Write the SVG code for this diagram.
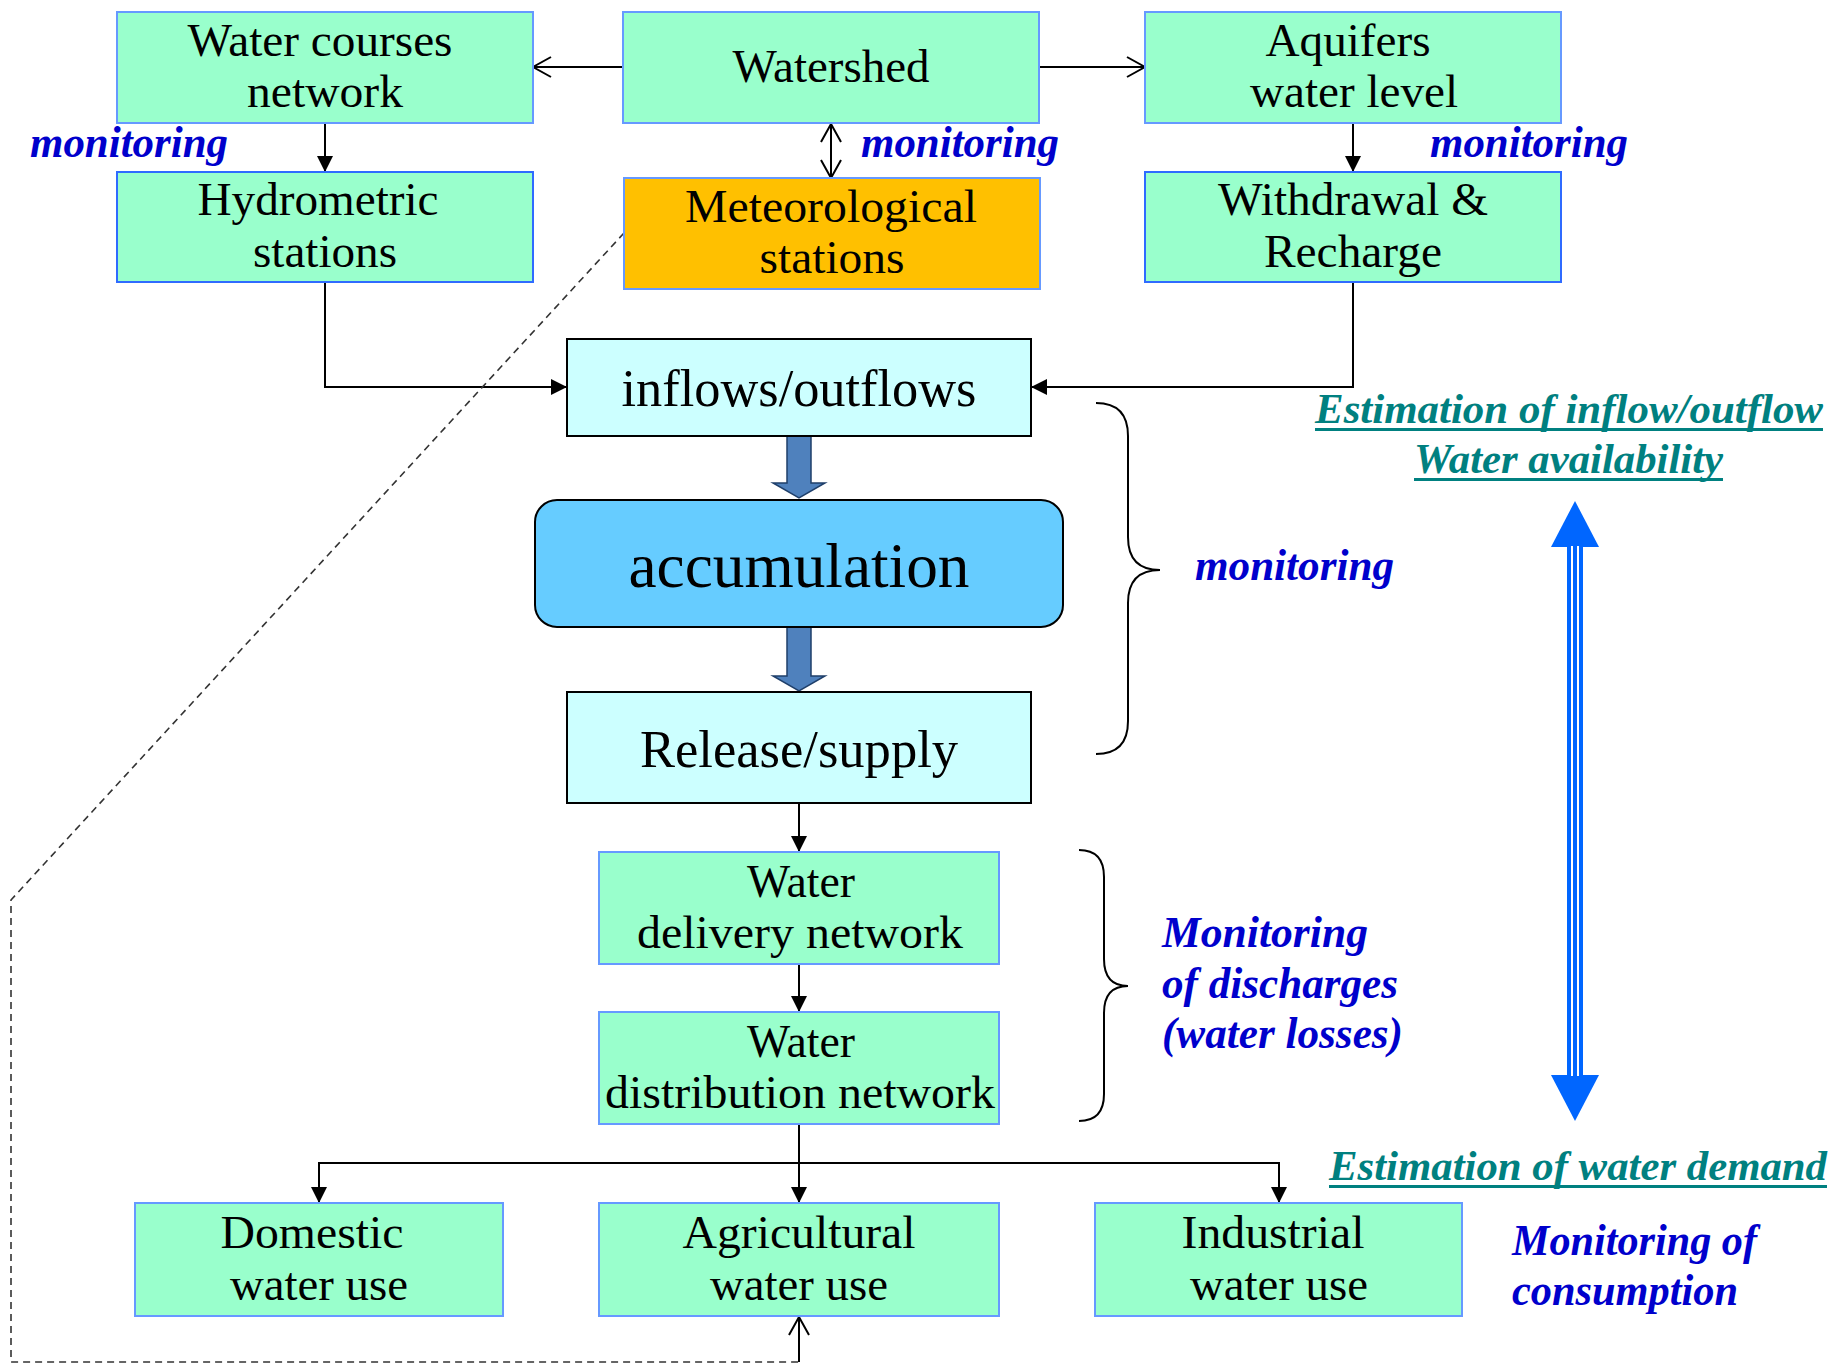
<svg xmlns="http://www.w3.org/2000/svg" width="1837" height="1363" viewBox="0 0 1837 1363">
  <style>
    .box { fill: #99FFCC; stroke: #6699FF; stroke-width: 2; }
    .box2 { fill: #99FFCC; stroke: #2F6BFF; stroke-width: 2; }
    .met { fill: #FFC000; stroke: #6699FF; stroke-width: 2; }
    .res { fill: #CCFFFF; stroke: #000; stroke-width: 2; }
    .acc { fill: #66CCFF; stroke: #000; stroke-width: 2; }
    .t { font-family: "Liberation Serif", "Times New Roman", serif; font-size: 47px; fill: #000; text-anchor: middle; }
    .tl { font-family: "Liberation Serif", "Times New Roman", serif; font-size: 53px; fill: #000; text-anchor: middle; }
    .mon { font-family: "Liberation Serif", "Times New Roman", serif; font-size: 44px; font-weight: bold; font-style: italic; fill: #0000CC; }
    .est { font-family: "Liberation Serif", "Times New Roman", serif; font-size: 43px; font-weight: bold; font-style: italic; fill: #008080; }
    .ln { fill: none; stroke: #000; stroke-width: 2; }
    .dash { fill: none; stroke: #333; stroke-width: 1.6; stroke-dasharray: 7 5; }
    .blk { fill: #4F81BD; stroke: #1F3F6A; stroke-width: 1.5; }
    .brace { fill: none; stroke: #000; stroke-width: 2; }
  </style>
  <defs>
    <marker id="solid" viewBox="0 0 16 16" refX="16" refY="8" markerWidth="16" markerHeight="16" markerUnits="userSpaceOnUse" orient="auto">
      <path d="M0,0 L16,8 L0,16 z" fill="#000"/>
    </marker>
    <marker id="open" viewBox="0 0 22 24" refX="20" refY="12" markerWidth="22" markerHeight="24" markerUnits="userSpaceOnUse" orient="auto-start-reverse">
      <path d="M2,2 L20,12 L2,22" fill="none" stroke="#000" stroke-width="2"/>
    </marker>
  </defs>

  <!-- connectors -->
  <g id="connectors">
    <path class="ln" d="M623,67 L533,67" marker-end="url(#open)"/>
    <path class="ln" d="M1039,67 L1145,67" marker-end="url(#open)"/>
    <path class="ln" d="M325,123 L325,172" marker-end="url(#solid)"/>
    <path class="ln" d="M831,124 L831,178" marker-start="url(#open)" marker-end="url(#open)"/>
    <path class="ln" d="M1353,123 L1353,172" marker-end="url(#solid)"/>
    <path class="ln" d="M325,282 L325,387 L567,387" marker-end="url(#solid)"/>
    <path class="ln" d="M1353,282 L1353,387 L1031,387" marker-end="url(#solid)"/>
    <path class="ln" d="M799,803 L799,852" marker-end="url(#solid)"/>
    <path class="ln" d="M799,964 L799,1012" marker-end="url(#solid)"/>
    <path class="ln" d="M799,1124 L799,1203" marker-end="url(#solid)"/>
    <path class="ln" d="M799,1163 L319,1163 L319,1203" marker-end="url(#solid)"/>
    <path class="ln" d="M799,1163 L1279,1163 L1279,1203" marker-end="url(#solid)"/>
    <path class="dash" d="M624,233 L11,900 L11,1362 L799,1362"/>
    <path class="ln" d="M799,1362 L799,1317" marker-end="url(#open)"/>
    <!-- wide flow arrows -->
    <polygon class="blk" points="787,436 811,436 811,483 825,483 799,498 773,483 787,483"/>
    <polygon class="blk" points="787,627 811,627 811,676 825,676 799,691 773,676 787,676"/>
  </g>

  <!-- nodes -->
  <g id="water-courses">
    <rect class="box" x="117" y="12" width="416" height="111"/>
    <text class="t" x="320" y="56" textLength="265" lengthAdjust="spacingAndGlyphs">Water courses</text>
    <text class="t" x="325" y="107" textLength="156" lengthAdjust="spacingAndGlyphs">network</text>
  </g>
  <g id="watershed">
    <rect class="box" x="623" y="12" width="416" height="111"/>
    <text class="t" x="831" y="82" textLength="197" lengthAdjust="spacingAndGlyphs">Watershed</text>
  </g>
  <g id="aquifers">
    <rect class="box" x="1145" y="12" width="416" height="111"/>
    <text class="t" x="1348" y="56" textLength="165" lengthAdjust="spacingAndGlyphs">Aquifers</text>
    <text class="t" x="1354" y="107" textLength="208" lengthAdjust="spacingAndGlyphs">water level</text>
  </g>
  <g id="hydrometric">
    <rect class="box2" x="117" y="172" width="416" height="110"/>
    <text class="t" x="318" y="215" textLength="241" lengthAdjust="spacingAndGlyphs">Hydrometric</text>
    <text class="t" x="325" y="267" textLength="144" lengthAdjust="spacingAndGlyphs">stations</text>
  </g>
  <g id="meteorological">
    <rect class="met" x="624" y="178" width="416" height="111"/>
    <text class="t" x="831" y="222" textLength="292" lengthAdjust="spacingAndGlyphs">Meteorological</text>
    <text class="t" x="832" y="273" textLength="145" lengthAdjust="spacingAndGlyphs">stations</text>
  </g>
  <g id="withdrawal">
    <rect class="box2" x="1145" y="172" width="416" height="110"/>
    <text class="t" x="1353" y="215" textLength="270" lengthAdjust="spacingAndGlyphs">Withdrawal &amp;</text>
    <text class="t" x="1353" y="267" textLength="178" lengthAdjust="spacingAndGlyphs">Recharge</text>
  </g>
  <g id="inflows">
    <rect class="res" x="567" y="339" width="464" height="97"/>
    <text class="tl" x="799" y="406" textLength="355" lengthAdjust="spacingAndGlyphs">inflows/outflows</text>
  </g>
  <g id="accumulation">
    <rect class="acc" x="535" y="500" width="528" height="127" rx="22" ry="22"/>
    <text class="tl" x="799" y="587" style="font-size:64px" textLength="341" lengthAdjust="spacingAndGlyphs">accumulation</text>
  </g>
  <g id="release">
    <rect class="res" x="567" y="692" width="464" height="111"/>
    <text class="tl" x="799" y="767" textLength="318" lengthAdjust="spacingAndGlyphs">Release/supply</text>
  </g>
  <g id="delivery">
    <rect class="box" x="599" y="852" width="400" height="112"/>
    <text class="t" x="801" y="897" textLength="108" lengthAdjust="spacingAndGlyphs">Water</text>
    <text class="t" x="800" y="948" textLength="326" lengthAdjust="spacingAndGlyphs">delivery network</text>
  </g>
  <g id="distribution">
    <rect class="box" x="599" y="1012" width="400" height="112"/>
    <text class="t" x="801" y="1057" textLength="108" lengthAdjust="spacingAndGlyphs">Water</text>
    <text class="t" x="800" y="1108" textLength="390" lengthAdjust="spacingAndGlyphs">distribution network</text>
  </g>
  <g id="domestic">
    <rect class="box" x="135" y="1203" width="368" height="113"/>
    <text class="t" x="312" y="1248" textLength="183" lengthAdjust="spacingAndGlyphs">Domestic</text>
    <text class="t" x="319" y="1300" textLength="178" lengthAdjust="spacingAndGlyphs">water use</text>
  </g>
  <g id="agricultural">
    <rect class="box" x="599" y="1203" width="400" height="113"/>
    <text class="t" x="799" y="1248" textLength="233" lengthAdjust="spacingAndGlyphs">Agricultural</text>
    <text class="t" x="799" y="1300" textLength="178" lengthAdjust="spacingAndGlyphs">water use</text>
  </g>
  <g id="industrial">
    <rect class="box" x="1095" y="1203" width="367" height="113"/>
    <text class="t" x="1273" y="1248" textLength="183" lengthAdjust="spacingAndGlyphs">Industrial</text>
    <text class="t" x="1279" y="1300" textLength="178" lengthAdjust="spacingAndGlyphs">water use</text>
  </g>

  <!-- monitoring labels -->
  <g id="labels">
    <text class="mon" x="30" y="157" textLength="198" lengthAdjust="spacingAndGlyphs">monitoring</text>
    <text class="mon" x="861" y="157" textLength="198" lengthAdjust="spacingAndGlyphs">monitoring</text>
    <text class="mon" x="1430" y="157" textLength="198" lengthAdjust="spacingAndGlyphs">monitoring</text>
    <text class="mon" x="1195" y="580" textLength="199" lengthAdjust="spacingAndGlyphs">monitoring</text>
    <text class="mon" x="1162" y="947" textLength="206" lengthAdjust="spacingAndGlyphs">Monitoring</text>
    <text class="mon" x="1162" y="998" textLength="236" lengthAdjust="spacingAndGlyphs">of discharges</text>
    <text class="mon" x="1162" y="1048" textLength="241" lengthAdjust="spacingAndGlyphs">(water losses)</text>
    <text class="mon" x="1512" y="1255" textLength="245" lengthAdjust="spacingAndGlyphs">Monitoring of</text>
    <text class="mon" x="1512" y="1305" textLength="226" lengthAdjust="spacingAndGlyphs">consumption</text>
  </g>

  <!-- braces -->
  <g id="braces">
    <path class="brace" d="M1096,403 Q1128,403 1128,436 L1128,537 Q1128,570 1160,570 Q1128,570 1128,603 L1128,721 Q1128,754 1096,754"/>
    <path class="brace" d="M1079,850 Q1104,850 1104,877 L1104,959 Q1104,986 1128,986 Q1104,986 1104,1013 L1104,1094 Q1104,1121 1079,1121"/>
  </g>

  <!-- estimation captions -->
  <g id="estimation">
    <text class="est" x="1315" y="423" textLength="508" lengthAdjust="spacingAndGlyphs">Estimation of inflow/outflow</text>
    <rect x="1315" y="428" width="508" height="3" fill="#008080"/>
    <text class="est" x="1414" y="473" textLength="309" lengthAdjust="spacingAndGlyphs">Water availability</text>
    <rect x="1414" y="478" width="309" height="3" fill="#008080"/>
    <text class="est" x="1329" y="1180" textLength="498" lengthAdjust="spacingAndGlyphs">Estimation of water demand</text>
    <rect x="1329" y="1185" width="498" height="3" fill="#008080"/>
  </g>

  <!-- double-headed availability / demand arrow -->
  <g id="balance-arrow">
    <polygon points="1575,501 1599,547 1551,547" fill="#0066FF"/>
    <polygon points="1575,1121 1599,1075 1551,1075" fill="#0066FF"/>
    <rect x="1567" y="546" width="16" height="530" fill="#0066FF"/>
    <rect x="1571" y="546" width="2" height="530" fill="#FFFFFF"/>
    <rect x="1577" y="546" width="2" height="530" fill="#FFFFFF"/>
  </g>
</svg>
